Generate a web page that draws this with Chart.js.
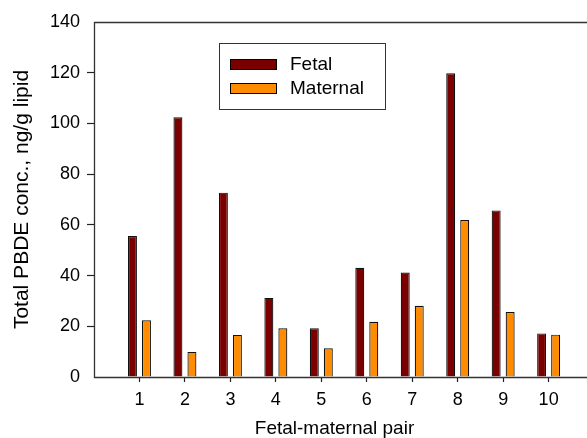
<!DOCTYPE html>
<html>
<head>
<meta charset="utf-8">
<script src="https://cdn.jsdelivr.net/npm/chart.js@4/dist/chart.umd.min.js"></script>
<style>
  html, body { margin: 0; padding: 0; background: #fff; }
  #wrap { width: 587px; height: 438px; }
</style>
</head>
<body>
<div id="wrap"><canvas id="c" width="587" height="438"></canvas></div>
<script>
const categories = [1, 2, 3, 4, 5, 6, 7, 8, 9, 10];
const fetal    = [55.6, 102.4, 72.7, 31.2, 19.2, 43.1, 41.2, 119.8, 65.7, 17.2];
const maternal = [22.4, 9.9, 16.6, 19.2, 11.3, 21.8, 28.1, 61.9, 25.6, 16.7];
const yTicks = [0, 20, 40, 60, 80, 100, 120, 140];
const seriesNames = ['Fetal', 'Maternal'];
const seriesColors = ['#7a0000', '#ff8c00'];
const xTitle = 'Fetal-maternal pair';
const yTitle = 'Total PBDE conc., ng/g lipid';

const FONT = "'Liberation Sans', Arial, sans-serif";

const framePlugin = {
  id: 'frame',
  afterDraw(chart) {
    const {ctx, chartArea: a} = chart;
    ctx.save();
    ctx.strokeStyle = '#333';
    ctx.lineWidth = 1.3;
    ctx.beginPath();
    ctx.moveTo(a.left, a.bottom + 0.5);
    ctx.lineTo(chart.width, a.bottom + 0.5);
    ctx.moveTo(a.left, a.top + 0.5);
    ctx.lineTo(chart.width, a.top + 0.5);
    ctx.moveTo(a.left + 0.5, a.top);
    ctx.lineTo(a.left + 0.5, a.bottom + 1);
    ctx.stroke();
    ctx.restore();
  }
};

const legendPlugin = {
  id: 'boxLegend',
  afterDraw(chart) {
    const {ctx} = chart;
    const bx = 219, by = 43, bw = 166, bh = 66;
    ctx.save();
    ctx.fillStyle = '#fff';
    ctx.fillRect(bx, by, bw, bh);
    ctx.strokeStyle = '#333';
    ctx.lineWidth = 1;
    ctx.strokeRect(bx + 0.5, by + 0.5, bw, bh);
    ctx.font = '19px ' + FONT;
    ctx.textBaseline = 'middle';
    ctx.textAlign = 'left';
    chart.data.datasets.forEach((ds, i) => {
      const sy = 59 + i * 24;
      ctx.fillStyle = ds.backgroundColor;
      ctx.fillRect(230, sy, 47, 11);
      ctx.strokeStyle = '#000';
      ctx.strokeRect(230.5, sy + 0.5, 46, 10);
      ctx.fillStyle = '#000';
      ctx.fillText(ds.label, 290, sy + 6);
    });
    ctx.restore();
  }
};

new Chart(document.getElementById('c'), {
  type: 'bar',
  data: {
    datasets: seriesNames.map((name, i) => ({
      label: name,
      data: categories.map((c, j) => ({x: c, y: (i === 0 ? fetal : maternal)[j]})),
      backgroundColor: seriesColors[i],
      borderColor: '#111',
      borderWidth: 1.2,
      borderSkipped: 'bottom',
      categoryPercentage: 0.616,
      barPercentage: 0.64
    }))
  },
  options: {
    responsive: false,
    animation: false,
    events: [],
    layout: { padding: { top: 22, right: 12, left: 0, bottom: 0 } },
    plugins: { legend: { display: false }, tooltip: { enabled: false } },
    scales: {
      x: {
        type: 'linear',
        min: 0,
        max: 10.58,
        offset: false,
        afterFit(s) { s.height = 61; },
        afterBuildTicks(s) { s.ticks = categories.map(v => ({value: v})); },
        grid: { offset: false, drawOnChartArea: false, drawTicks: true, tickLength: 5, color: '#222', tickWidth: 1.2 },
        border: { display: false },
        ticks: { color: '#000', font: { family: FONT, size: 18 }, padding: 7, maxRotation: 0, autoSkip: false },
        title: { display: true, text: xTitle, color: '#000', font: { family: FONT, size: 19 }, padding: { top: 0, bottom: -2 } }
      },
      y: {
        min: 0,
        max: 140,
        afterFit(s) { s.width = 94; },
        afterBuildTicks(s) { s.ticks = yTicks.map(v => ({value: v})); },
        grid: {
          drawOnChartArea: false, drawTicks: true, tickLength: 7, tickWidth: 1.2,
          color: c => (c.tick && (c.tick.value === 0 || c.tick.value === 140)) ? 'rgba(0,0,0,0)' : '#222'
        },
        border: { display: false },
        ticks: { color: '#000', font: { family: FONT, size: 18 }, padding: 7 },
        title: { display: true, text: yTitle, color: '#000', font: { family: FONT, size: 21 }, padding: { top: 10, bottom: 0 } }
      }
    }
  },
  plugins: [framePlugin, legendPlugin]
});
</script>
</body>
</html>
